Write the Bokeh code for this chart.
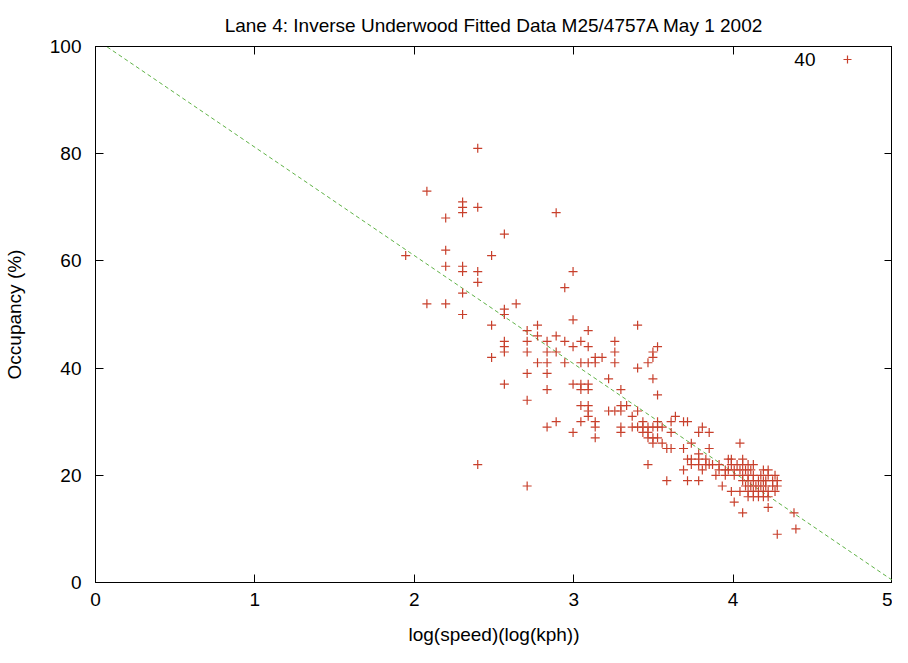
from bokeh.plotting import figure
from bokeh.models import (Range1d, LinearAxis, FixedTicker, Legend, LegendItem,
                          Label, ColumnDataSource)
from bokeh.embed import file_html
from bokeh.resources import INLINE

# ---- data ----
title_text = "Lane 4: Inverse Underwood Fitted Data M25/4757A May 1 2002"
x_label = "log(speed)(log(kph))"
y_label = "Occupancy (%)"
series_label = "40"

x_ticks = [0, 1, 2, 3, 4, 5]
y_ticks = [0, 20, 40, 60, 80, 100]

log_speed = (
    [1.946] * 1 + [2.079] * 2 + [2.197] * 4 + [2.303] * 7 + [2.398] * 5 +
    [2.485] * 3 + [2.565] * 7 + [2.639] * 1 + [2.708] * 6 + [2.773] * 3 +
    [2.833] * 6 + [2.890] * 4 + [2.944] * 3 + [2.996] * 5 + [3.045] * 6 +
    [3.091] * 8 + [3.135] * 5 + [3.178] * 1 + [3.219] * 2 + [3.258] * 4 +
    [3.296] * 5 + [3.332] * 1 + [3.367] * 2 + [3.401] * 4 + [3.434] * 3 +
    [3.466] * 5 + [3.497] * 6 + [3.526] * 5 + [3.555] * 2 + [3.584] * 2 +
    [3.611] * 3 + [3.638] * 1 + [3.689] * 3 + [3.714] * 3 + [3.738] * 3 +
    [3.784] * 5 + [3.807] * 2 + [3.829] * 2 + [3.850] * 3 + [3.871] * 1 +
    [3.892] * 1 + [3.912] * 2 + [3.932] * 1 + [3.951] * 2 + [3.970] * 2 +
    [3.989] * 3 + [4.007] * 3 + [4.025] * 1 + [4.043] * 3 + [4.060] * 5 +
    [4.078] * 2 + [4.094] * 5 + [4.111] * 2 + [4.127] * 5 + [4.143] * 1 +
    [4.159] * 3 + [4.174] * 2 + [4.190] * 4 + [4.205] * 2 + [4.220] * 5 +
    [4.248] * 2 + [4.263] * 2 + [4.277] * 3 + [4.382] * 1 + [4.394] * 1
)

occupancy = [
    61,
    73, 52,
    68, 62, 59, 52,
    71, 70, 69, 59, 58, 54, 50,
    81, 70, 58, 56, 22,
    61, 48, 42,
    65, 51, 50, 45, 44, 43, 37,
    52,
    47, 45, 43, 39, 34, 18,
    48, 46, 41,
    45, 43, 41, 39, 36, 29,
    69, 46, 43, 30,
    55, 45, 41,
    58, 49, 44, 37, 28,
    45, 41, 37, 36, 33, 30,
    47, 44, 41, 37, 36, 33, 32, 31,
    42, 41, 30, 29, 27,
    42,
    38, 32,
    45, 43, 41, 32,
    36, 33, 32, 29, 28,
    33,
    31, 29,
    48, 40, 32, 29,
    30, 29, 28,
    41, 29, 28, 27, 22,
    43, 42, 38, 29, 27, 26,
    44, 35, 30, 29, 27,
    29, 26,
    25, 19,
    30, 28, 25,
    31,
    30, 25, 21,
    30, 23, 19,
    26, 23, 22,
    28, 24, 23, 22, 19,
    29, 21,
    23, 22,
    28, 25, 22,
    22,
    20,
    22, 21,
    18,
    21, 20,
    23, 21,
    23, 22, 17,
    21, 20, 15,
    22,
    26, 21, 17,
    23, 22, 20, 19, 13,
    21, 18,
    22, 20, 19, 17, 16,
    21, 18,
    22, 20, 19, 17, 16,
    18,
    19, 17, 16,
    20, 18,
    21, 19, 17, 16,
    19, 18,
    21, 20, 17, 16, 14,
    19, 18,
    20, 17,
    19, 18, 9,
    13,
    10,
]

# fitted line (inverse Underwood fit) drawn over the x-axis range
fit_intercept = 101.4
fit_slope = -20.2
fit_x = [0.0, 5.0]
fit_y = [fit_intercept + fit_slope * v for v in fit_x]

# ---- styling ----
FONT = "Liberation Sans"
FS = "19px"
RED = "#c8402c"
GREEN = "#5fb246"

p = figure(width=892, height=647, output_backend="svg", toolbar_location=None,
           x_range=Range1d(0, 5), y_range=Range1d(0, 100),
           min_border_left=94, min_border_right=0, min_border_top=46,
           min_border_bottom=62)
p.title.text = title_text
p.title.align = "center"
p.title.text_font = FONT
p.title.text_font_size = "19px"
p.title.text_font_style = "normal"
p.title.text_color = "black"
p.title.standoff = 22

p.grid.visible = False
p.outline_line_color = "black"
p.outline_line_width = 1
p.background_fill_color = "white"
p.border_fill_color = "white"

for ax, ticks in ((p.xaxis[0], x_ticks), (p.yaxis[0], y_ticks)):
    ax.ticker = FixedTicker(ticks=ticks)
    ax.major_tick_in = 8
    ax.major_tick_out = 0
    ax.minor_tick_in = 0
    ax.minor_tick_out = 0
    ax.axis_line_color = "black"
    ax.major_tick_line_color = "black"
    ax.major_label_text_font = FONT
    ax.major_label_text_font_size = FS
    ax.major_label_text_color = "black"
    ax.axis_label_text_font = FONT
    ax.axis_label_text_font_size = FS
    ax.axis_label_text_font_style = "normal"
    ax.axis_label_text_color = "black"

p.xaxis[0].axis_label = x_label
p.yaxis[0].axis_label = y_label
p.xaxis[0].major_label_standoff = 10
p.yaxis[0].major_label_standoff = 14
p.xaxis[0].axis_label_standoff = 15
p.yaxis[0].axis_label_standoff = 22

# mirrored tick marks on top and right
top_ax = LinearAxis(ticker=FixedTicker(ticks=x_ticks),
                    major_label_overrides={t: "" for t in x_ticks})
right_ax = LinearAxis(ticker=FixedTicker(ticks=y_ticks),
                      major_label_overrides={t: "" for t in y_ticks})
for ax in (top_ax, right_ax):
    ax.major_tick_in = 8
    ax.major_tick_out = 0
    ax.minor_tick_in = 0
    ax.minor_tick_out = 0
    ax.major_label_standoff = 0
    ax.major_label_text_font_size = "0px"
    ax.axis_line_color = "black"
p.add_layout(top_ax, "above")
p.add_layout(right_ax, "right")

# fitted line
p.line(fit_x, fit_y, line_color=GREEN, line_width=1, line_dash="4 3")

# data points
src = ColumnDataSource(data=dict(x=log_speed, y=occupancy))
pts = p.scatter("x", "y", source=src, marker="cross", size=9,
                line_color=RED, line_width=1.2)

# key: label text then sample symbol (gnuplot style)
legend = Legend(items=[LegendItem(label=" ", renderers=[pts])],
                location=(742, 513), padding=0, margin=0, spacing=0,
                border_line_color=None, background_fill_alpha=0,
                glyph_width=20, glyph_height=20, label_height=20,
                label_standoff=0, label_text_font_size="1px")
p.add_layout(legend, "center")
p.add_layout(Label(x=720, y=523, x_units="screen", y_units="screen",
                   text=series_label, text_align="right",
                   text_baseline="middle", text_font=FONT,
                   text_font_size=FS, text_color="black"))

open("out.html", "w").write(file_html(p, INLINE))
